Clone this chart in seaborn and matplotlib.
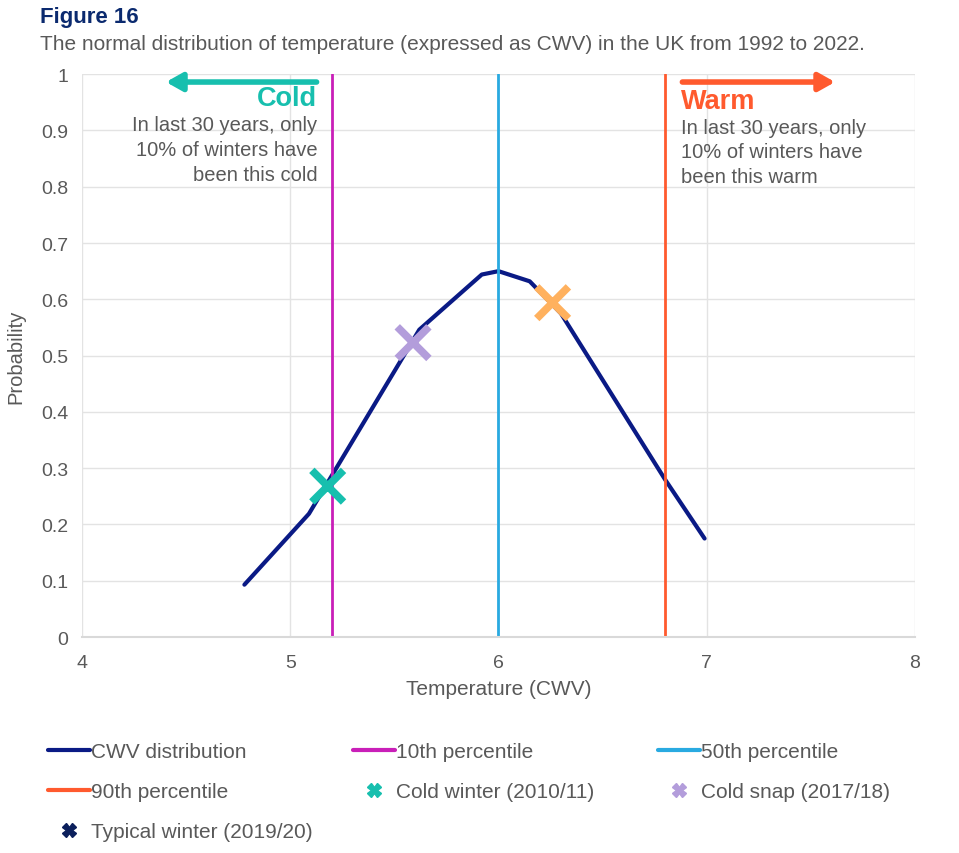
import pandas as pd
import seaborn as sns
import matplotlib.pyplot as plt
from matplotlib.lines import Line2D

# CWV distribution curve
cwv_temp = [4.78, 5.09, 5.62, 5.92, 6.0, 6.15, 6.3, 6.8, 6.99]
cwv_prob = [0.093, 0.219, 0.546, 0.644, 0.65, 0.632, 0.575, 0.28, 0.175]

# percentile lines
p10, p50, p90 = 5.2, 6.0, 6.8

# marked winters
winter_names = ['Cold winter (2010/11)', 'Cold snap (2017/18)', 'Typical winter (2019/20)']
winter_temp = [5.18, 5.59, 6.26]
winter_prob = [0.268, 0.523, 0.594]

navy = '#0a1a85'
magenta = '#c91fb8'
blue = '#29aae1'
red = '#ff5a2e'
teal = '#17bfae'
purple = '#b39ddb'
orange = '#ffb15e'
grey = '#595959'

sns.set_theme(style="whitegrid")
plt.rcParams['font.family'] = ['Liberation Sans', 'DejaVu Sans']

fig = plt.figure(figsize=(9.59, 8.54), dpi=100)
ax = fig.add_axes([0.0855, 0.2529, 0.8685, 0.6591])

df = pd.DataFrame({'Temperature': cwv_temp, 'Probability': cwv_prob})
sns.lineplot(data=df, x='Temperature', y='Probability', color=navy, lw=3, ax=ax)

ax.axvline(p10, color=magenta, lw=2)
ax.axvline(p50, color=blue, lw=2)
ax.axvline(p90, color=red, lw=2)

dfw = pd.DataFrame({'name': winter_names, 'Temperature': winter_temp, 'Probability': winter_prob})
sns.scatterplot(data=dfw, x='Temperature', y='Probability', hue='name',
                palette=[teal, purple, orange], marker='x', s=520,
                linewidth=5.5, ax=ax, legend=False, zorder=5)

ax.set_xlim(4, 8)
ax.set_ylim(0, 1)
ax.set_xticks([4, 5, 6, 7, 8])
ax.set_xticklabels(['4', '5', '6', '7', '8'])
ax.set_yticks([i / 10 for i in range(11)])
ax.set_yticklabels(['0'] + [f'{i/10:.1f}' for i in range(1, 10)] + ['1'])
ax.tick_params(colors=grey, labelsize=14, length=0)
ax.tick_params(axis='x', pad=12)
ax.tick_params(axis='y', pad=10)
ax.grid(color='#e3e3e3', lw=1)
for s in ['left', 'right', 'top']:
    ax.spines[s].set_visible(False)
ax.spines['bottom'].set_color('#d9d9d9')
ax.spines['bottom'].set_linewidth(1.5)
ax.set_xlabel('Temperature (CWV)', color=grey, fontsize=15, labelpad=6)
ax.set_ylabel('Probability', color=grey, fontsize=14.5, labelpad=11)

# cold / warm annotations
ax.annotate('', xy=(4.39, 0.986), xytext=(5.14, 0.986),
            arrowprops=dict(arrowstyle='-|>,head_length=0.8,head_width=0.45', color=teal, lw=4))
ax.text(5.13, 0.958, 'Cold', color=teal, fontsize=19.5, fontweight='bold', ha='right', va='center')
ax.text(5.13, 0.927, 'In last 30 years, only\n10% of winters have\nbeen this cold',
        color=grey, fontsize=14.5, ha='right', va='top', linespacing=1.38)
ax.annotate('', xy=(7.63, 0.986), xytext=(6.87, 0.986),
            arrowprops=dict(arrowstyle='-|>,head_length=0.8,head_width=0.45', color=red, lw=4))
ax.text(6.875, 0.952, 'Warm', color=red, fontsize=19.5, fontweight='bold', ha='left', va='center')
ax.text(6.875, 0.922, 'In last 30 years, only\n10% of winters have\nbeen this warm',
        color=grey, fontsize=14.5, ha='left', va='top', linespacing=1.35)

# titles
fig.text(0.042, 0.979, 'Figure 16', color='#0b2a6f', fontsize=16, fontweight='bold', va='center')
fig.text(0.042, 0.948, 'The normal distribution of temperature (expressed as CWV) in the UK from 1992 to 2022.',
         color=grey, fontsize=15, va='center')

# legend in three columns
def line_h(c):
    return Line2D([], [], color=c, lw=3)

def mark_h(c):
    return Line2D([], [], color=c, marker='X', ls='', markersize=10)

cols = [
    ([line_h(navy), line_h(red), mark_h('#0b1f5c')],
     ['CWV distribution', '90th percentile', 'Typical winter (2019/20)'], 0.050),
    ([line_h(magenta), mark_h(teal)], ['10th percentile', 'Cold winter (2010/11)'], 0.368),
    ([line_h(blue), mark_h(purple)], ['50th percentile', 'Cold snap (2017/18)'], 0.686),
]
for handles, labels, x0 in cols:
    fig.legend(handles, labels, loc='upper left', bbox_to_anchor=(x0, 0.130),
               frameon=False, fontsize=15, labelcolor=grey, handlelength=2.0,
               handletextpad=0.05, labelspacing=1.02, borderaxespad=0, borderpad=0)

plt.savefig('out.png', dpi=100)
